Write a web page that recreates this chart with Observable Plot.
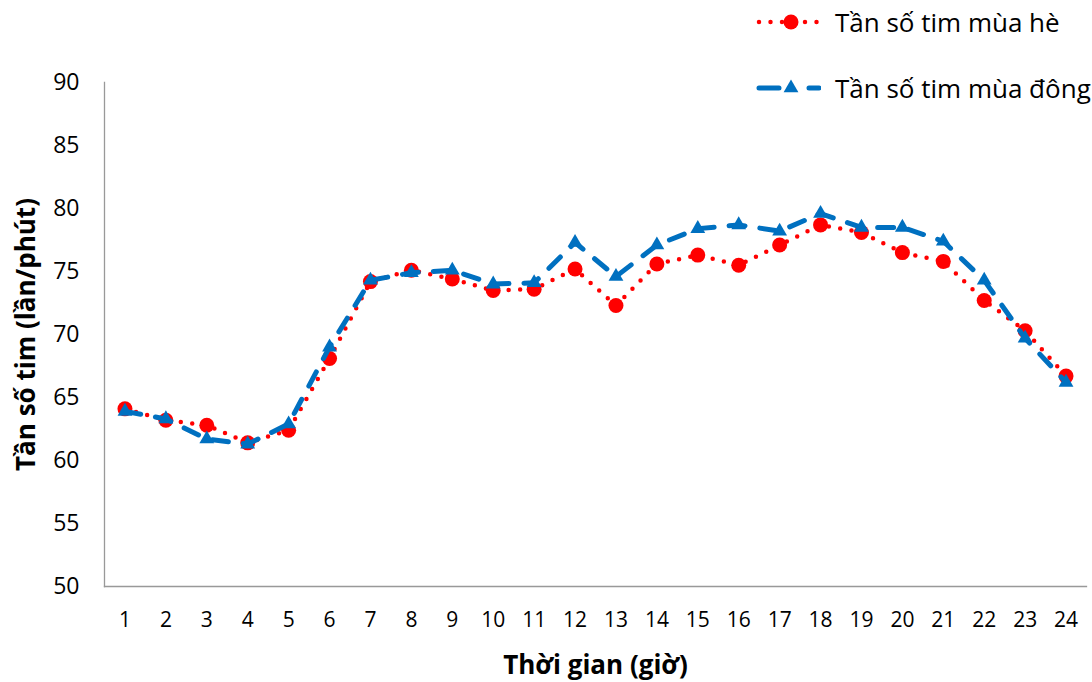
<!DOCTYPE html>
<html>
<head>
<meta charset="utf-8">
<script src="https://cdn.jsdelivr.net/npm/d3@7"></script>
<script src="https://cdn.jsdelivr.net/npm/@observablehq/plot@0.6"></script>
<style>
  body { margin: 0; background: #fff; }
  #wrap { position: relative; width: 1092px; height: 682px; }
  #legend { position: absolute; left: 755px; top: 0; font-family: "Open Sans", sans-serif; font-size: 26px; color: #000; }
  .item { position: absolute; left: 0; white-space: nowrap; display: flex; align-items: center; }
  .item svg { margin-right: 14px; }
  g[aria-label="y-axis label"] { font-family: "Open Sans", sans-serif; font-size: 26px; font-weight: bold; }
  g[aria-label="x-axis label"] { font-family: "Open Sans", sans-serif; font-size: 26px; font-weight: bold; }
</style>
</head>
<body>
<div id="wrap">
  <div id="chart"></div>
  <div id="legend"></div>
</div>
<script>
const hours = [1,2,3,4,5,6,7,8,9,10,11,12,13,14,15,16,17,18,19,20,21,22,23,24];
const summer = [64.1,63.2,62.8,61.4,62.4,68.1,74.2,75.1,74.4,73.5,73.6,75.2,72.3,75.6,76.3,75.5,77.1,78.7,78.1,76.5,75.8,72.7,70.3,66.7];
const winter = [63.9,63.3,61.7,61.3,62.9,69.0,74.3,74.9,75.1,74.0,74.1,77.3,74.6,77.1,78.4,78.7,78.2,79.6,78.5,78.5,77.4,74.3,69.7,66.2];
const yTicks = [50,55,60,65,70,75,80,85,90];
const seriesNames = ["Tần số tim mùa hè", "Tần số tim mùa đông"];

const summerData = hours.map((h, i) => ({h, v: summer[i]}));
const winterData = hours.map((h, i) => ({h, v: winter[i]}));

const red = "#FF0000", blue = "#0070C0";

const chart = Plot.plot({
  width: 1092,
  height: 682,
  marginLeft: 104,
  marginRight: 6,
  marginTop: 82,
  marginBottom: 96,
  style: {background: "#fff"},
  x: {type: "point", domain: hours, padding: 0.5, round: false},
  y: {domain: [50, 90]},
  marks: [
    Plot.frame({anchor: "left", stroke: "#999", strokeWidth: 1.3}),
    Plot.frame({anchor: "bottom", stroke: "#999", strokeWidth: 1.3}),
    Plot.axisY({ticks: yTicks, tickSize: 0, tickPadding: 25, fontSize: 23, fontFamily: "Open Sans, sans-serif", fill: "#000",
      label: "Tần số tim (lần/phút)", labelAnchor: "center", labelOffset: 88, labelArrow: "none"}),
    Plot.axisX({tickSize: 0, tickPadding: 26, fontSize: 21, fontFamily: "Open Sans, sans-serif", fill: "#000",
      label: "Thời gian (giờ)", labelAnchor: "center", labelOffset: 87, labelArrow: "none"}),
    Plot.line(summerData, {x: "h", y: "v", stroke: red, strokeWidth: 4.5, strokeDasharray: "0 11.5", strokeLinecap: "round"}),
    Plot.dot(summerData, {x: "h", y: "v", r: 7.5, fill: red, symbol: "circle"}),
    Plot.line(winterData, {x: "h", y: "v", stroke: blue, strokeWidth: 5, strokeDasharray: "16 15", strokeLinecap: "round"}),
    Plot.dot(winterData, {x: "h", y: "v", r: 5.5, fill: blue, symbol: "triangle"})
  ]
});
document.getElementById("chart").appendChild(chart);

// legend
const legend = document.getElementById("legend");
function addItem(name, top, kind) {
  const div = document.createElement("div");
  div.className = "item";
  div.style.top = top + "px";
  const ns = "http://www.w3.org/2000/svg";
  const svg = document.createElementNS(ns, "svg");
  svg.setAttribute("width", 66); svg.setAttribute("height", 20);
  const line = document.createElementNS(ns, "line");
  line.setAttribute("x1", 4); line.setAttribute("x2", 64);
  line.setAttribute("y1", 10); line.setAttribute("y2", 10);
  line.setAttribute("stroke-linecap", "round");
  if (kind === "summer") {
    line.setAttribute("stroke", red); line.setAttribute("stroke-width", 4.5);
    line.setAttribute("stroke-dasharray", "0 11.5");
    svg.appendChild(line);
    const c = document.createElementNS(ns, "circle");
    c.setAttribute("cx", 36); c.setAttribute("cy", 10); c.setAttribute("r", 7.5); c.setAttribute("fill", red);
    svg.appendChild(c);
  } else {
    line.setAttribute("stroke", blue); line.setAttribute("stroke-width", 5);
    line.setAttribute("stroke-dasharray", "20 30");
    svg.appendChild(line);
    const p = document.createElementNS(ns, "path");
    p.setAttribute("d", d3.symbol(d3.symbolTriangle, 5.5 * 5.5 * Math.PI)());
    p.setAttribute("transform", "translate(36,10)");
    p.setAttribute("fill", blue);
    svg.appendChild(p);
  }
  div.appendChild(svg);
  const span = document.createElement("span");
  span.textContent = name;
  div.appendChild(span);
  legend.appendChild(div);
}
addItem(seriesNames[0], 4, "summer");
addItem(seriesNames[1], 70, "winter");
</script>
</body>
</html>
